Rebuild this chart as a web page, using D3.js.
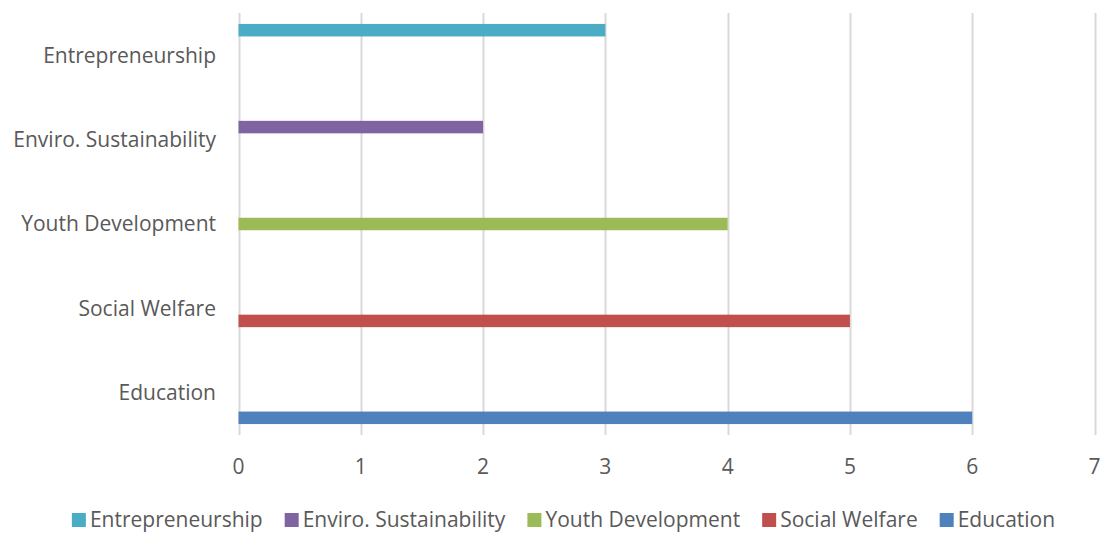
<!DOCTYPE html>
<html>
<head>
<meta charset="utf-8">
<script src="https://cdn.jsdelivr.net/npm/d3@7"></script>
<style>
  body { margin: 0; background: #fff; }
  svg text { font-family: "Open Sans", Lato, sans-serif; fill: #595959; }
</style>
</head>
<body>
<svg id="chart" width="1106" height="534"></svg>
<script>
// categories listed top to bottom as in the chart
const categories = ["Entrepreneurship", "Enviro. Sustainability", "Youth Development", "Social Welfare", "Education"];
// one series per category; each series only has a value in its own category
const seriesNames = ["Entrepreneurship", "Enviro. Sustainability", "Youth Development", "Social Welfare", "Education"];
const seriesValues = [3, 2, 4, 5, 6];
const seriesColors = ["#4bacc6", "#8064a2", "#9bbb59", "#c0504d", "#4f81bd"];
const xTicks = [0, 1, 2, 3, 4, 5, 6, 7];

const margin = {top: 13, right: 11, bottom: 99, left: 238};
const width = 1106 - margin.left - margin.right;
const height = 534 - margin.top - margin.bottom;
const fontSize = "21px";

const svg = d3.select("#chart");
const g = svg.append("g").attr("transform", "translate(" + margin.left + "," + margin.top + ")");

const x = d3.scaleLinear().domain([0, 7]).range([0.5, width - 0.5]);
const y0 = d3.scaleBand().domain(categories).range([0, height]);
// inner slots: Excel's gap width leaves ~26% of each band empty
const y1 = d3.scaleBand().domain(seriesNames).range([0, y0.bandwidth()]).paddingOuter(0.875);

// gridlines
g.append("g").selectAll("line").data(xTicks).join("line")
  .attr("x1", d => Math.round(x(d)) + 0.5).attr("x2", d => Math.round(x(d)) + 0.5)
  .attr("y1", 0).attr("y2", height)
  .attr("stroke", "#d9d9d9").attr("stroke-width", 2);

// bars
const bars = seriesNames.map((s, i) => ({series: s, category: categories[i], value: seriesValues[i], color: seriesColors[i]}));
g.append("g").selectAll("rect").data(bars).join("rect")
  .attr("x", x(0))
  .attr("y", d => y0(d.category) + y1(d.series))
  .attr("width", d => x(d.value) - x(0))
  .attr("height", y1.bandwidth())
  .attr("fill", d => d.color);

// category labels
g.append("g").selectAll("text").data(categories).join("text")
  .attr("x", -22)
  .attr("y", d => y0(d) + y0.bandwidth() / 2)
  .attr("dy", "0.35em")
  .attr("text-anchor", "end")
  .style("font-size", fontSize)
  .text(d => d);

// x tick labels
g.append("g").selectAll("text").data(xTicks).join("text")
  .attr("x", d => x(d))
  .attr("y", height + 32)
  .attr("dy", "0.35em")
  .attr("text-anchor", "middle")
  .style("font-size", fontSize)
  .text(d => d);

// legend
const legend = svg.append("g");
let lx = 0;
const items = [];
seriesNames.forEach((s, i) => {
  const item = legend.append("g");
  item.append("rect").attr("x", 0).attr("y", 513).attr("width", 14).attr("height", 14).attr("fill", seriesColors[i]);
  const t = item.append("text").attr("x", 18).attr("y", 520).attr("dy", "0.35em")
    .style("font-size", fontSize).text(s);
  const w = 18 + t.node().getComputedTextLength();
  items.push({item, lx});
  lx += w + 22;
});
const total = lx - 22;
const start = 563.5 - total / 2;
items.forEach(d => d.item.attr("transform", "translate(" + (start + d.lx) + ",0)"));
</script>
</body>
</html>
